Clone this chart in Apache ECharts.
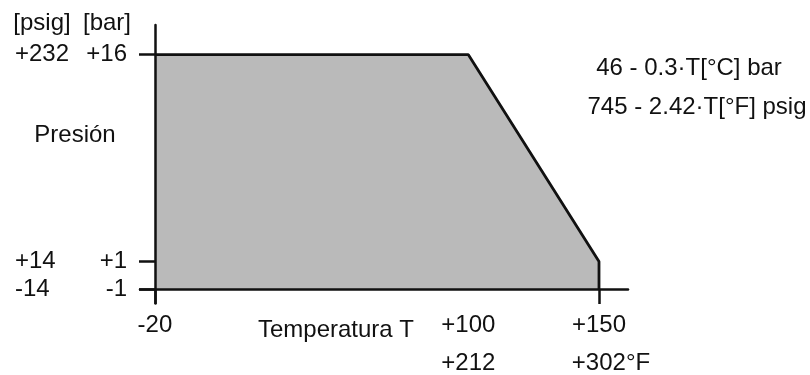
<!DOCTYPE html>
<html>
<head>
<meta charset="utf-8">
<title>Presión vs Temperatura</title>
<script src="https://cdn.jsdelivr.net/npm/echarts@6/dist/echarts.min.js"></script>
<style>
  html, body { margin: 0; padding: 0; background: #fff; }
  #chart { width: 810px; height: 375px; }
</style>
</head>
<body>
<div id="chart"></div>
<script>
// outline of the allowed region (°C, bar)
const tempC = [-20, 100, 150, 150]
const pressureBar = [16, 16, 1, -1]

// tick values and their labels
const xTicks = [-20, 100, 150]
const xLabelsC = ['-20', '+100', '+150']
const xTicksF = [100, 150]
const xLabelsF = ['+212', '+302°F']
const yTicks = [-1, 1, 16]
const barLabels = ['-1', '+1', '+16']
const psigLabels = ['-14', '+14', '+232']

const FONT = '"Liberation Sans", Arial, sans-serif'
const FS = 24
const INK = '#111'

const xMin = -25.7
const xMax = 161.1
const yMin = -2.04
const yMax = 18.15

const chart = echarts.init(document.getElementById('chart'))

const labelOf = (ticks, labels) => (v) => {
  const i = ticks.findIndex(t => Math.abs(t - v) < 1e-6)
  return i >= 0 ? labels[i] : ''
}

const baseText = { fontFamily: FONT, fontSize: FS, color: INK }
const axisInk = { color: INK, width: 2.5 }

const option = {
  animation: false,
  grid: { left: 140, right: 182, top: 25, bottom: 68, containLabel: false },
  xAxis: [
    {
      type: 'value',
      min: xMin,
      max: xMax,
      position: 'bottom',
      offset: -14.5,
      z: 5,
      axisLine: { show: true, onZero: false, lineStyle: axisInk },
      splitLine: { show: false },
      axisTick: {
        show: true,
        customValues: [-20, 150],
        length: 15,
        lineStyle: axisInk
      },
      axisLabel: {
        ...baseText,
        customValues: xTicks,
        margin: 24,
        formatter: labelOf(xTicks, xLabelsC)
      }
    },
    {
      type: 'value',
      min: xMin,
      max: xMax,
      position: 'bottom',
      offset: -14.5,
      axisLine: { show: false, onZero: false },
      splitLine: { show: false },
      axisTick: { show: false },
      axisLabel: {
        ...baseText,
        customValues: xTicksF,
        margin: 62,
        formatter: (v) => {
          const s = labelOf(xTicksF, xLabelsF)(v)
          return v === 150 ? '{f|' + s + '}' : s
        },
        rich: {
          f: { ...baseText, padding: [0, 0, 0, 24] }
        }
      }
    }
  ],
  yAxis: [
    {
      type: 'value',
      min: yMin,
      max: yMax,
      position: 'left',
      offset: -15,
      z: 5,
      axisLine: { show: true, onZero: false, lineStyle: axisInk },
      splitLine: { show: false },
      axisTick: {
        show: true,
        customValues: [-1, 1, 16],
        length: 16,
        lineStyle: axisInk
      },
      axisLabel: {
        ...baseText,
        customValues: yTicks,
        margin: 28,
        formatter: labelOf(yTicks, barLabels)
      }
    },
    {
      type: 'value',
      min: yMin,
      max: yMax,
      position: 'left',
      offset: -15,
      axisLine: { show: false, onZero: false },
      splitLine: { show: false },
      axisTick: { show: false },
      axisLabel: {
        ...baseText,
        customValues: yTicks,
        align: 'left',
        margin: 140,
        formatter: labelOf(yTicks, psigLabels)
      }
    }
  ],
  series: [
    {
      type: 'line',
      xAxisIndex: 0,
      yAxisIndex: 0,
      z: 2,
      data: tempC.map((t, i) => [t, pressureBar[i]]),
      symbol: 'none',
      silent: true,
      lineStyle: { color: INK, width: 2.8 },
      areaStyle: { color: '#bababa', opacity: 1, origin: -1 }
    }
  ],
  graphic: [
    { type: 'text', x: 42, y: 23, style: { text: '[psig]', font: FS + 'px ' + FONT, fill: INK, textAlign: 'center', textVerticalAlign: 'middle' } },
    { type: 'text', x: 107, y: 23, style: { text: '[bar]', font: FS + 'px ' + FONT, fill: INK, textAlign: 'center', textVerticalAlign: 'middle' } },
    { type: 'text', x: 75, y: 135, style: { text: 'Presión', font: FS + 'px ' + FONT, fill: INK, textAlign: 'center', textVerticalAlign: 'middle' } },
    { type: 'text', x: 336, y: 330, style: { text: 'Temperatura T', font: FS + 'px ' + FONT, fill: INK, textAlign: 'center', textVerticalAlign: 'middle' } },
    { type: 'text', x: 689, y: 68, style: { text: '46 - 0.3·T[°C] bar', font: FS + 'px ' + FONT, fill: INK, textAlign: 'center', textVerticalAlign: 'middle' } },
    { type: 'text', x: 697, y: 107, style: { text: '745 - 2.42·T[°F] psig', font: FS + 'px ' + FONT, fill: INK, textAlign: 'center', textVerticalAlign: 'middle' } }
  ]
}

chart.setOption(option)
</script>
</body>
</html>
